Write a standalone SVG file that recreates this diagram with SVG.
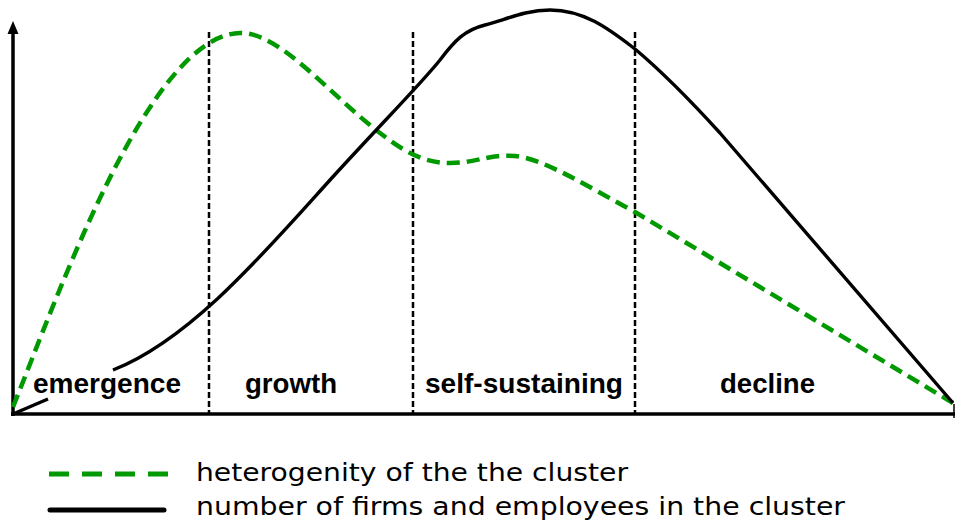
<svg xmlns="http://www.w3.org/2000/svg" width="955" height="527" viewBox="0 0 955 527">
<style>
.axis{stroke:#000;stroke-width:3.5;fill:none}
.phase{stroke:#000;stroke-width:2.5;stroke-dasharray:6 3;fill:none}
.het{stroke:#009900;stroke-width:4.5;stroke-dasharray:13 7;fill:none}
.num{stroke:#000;stroke-width:3.4;fill:none;stroke-linejoin:round}
.lbl{font-family:"Liberation Sans",Arial,sans-serif;font-weight:bold;font-size:28px;fill:#000}
.leg{font-family:"DejaVu Sans",Verdana,sans-serif;font-size:24px;fill:#000}
</style>
<rect width="955" height="527" fill="#fff"/>
<g id="axes">
<line class="axis" x1="13" y1="416" x2="13" y2="32"/>
<polygon points="13,21 7.5,34 18.5,34" fill="#000"/>
<line class="axis" x1="11" y1="414" x2="955" y2="414"/>
<line x1="954" y1="404" x2="954" y2="418" stroke="#000" stroke-width="1.5"/>
</g>
<g id="phase-dividers">
<line class="phase" x1="209" y1="32" x2="209" y2="414"/>
<line class="phase" x1="413" y1="32" x2="413" y2="414"/>
<line class="phase" x1="635" y1="32" x2="635" y2="414"/>
</g>
<g id="connectors">
<path id="heterogeneity-curve" class="het" d="M13,407 C60,290 150,35 240,33 C280,32 330,95 380,133 C400,148 420,163 450,163 C475,163 490,154 515,156 C545,159 590,188 635,212 L953,403"/>
<path id="firms-curve-start" class="num" d="M13,414 L48,399"/>
<path id="firms-curve" class="num" d="M113,370 C190,340 265,252 330,180 C380,125 420,85 440,60 C455,40 465,30 485,25 C505,20 525,10 550,10 C585,10 610,30 635,49 C660,70 690,100 720,133 L953,403"/>
</g>
<g id="phase-emergence"><text class="lbl" x="33" y="393" textLength="148" lengthAdjust="spacingAndGlyphs">emergence</text></g>
<g id="phase-growth"><text class="lbl" x="245" y="393" textLength="92" lengthAdjust="spacingAndGlyphs">growth</text></g>
<g id="phase-self-sustaining"><text class="lbl" x="425" y="393" textLength="198" lengthAdjust="spacingAndGlyphs">self-sustaining</text></g>
<g id="phase-decline"><text class="lbl" x="720" y="393" textLength="95" lengthAdjust="spacingAndGlyphs">decline</text></g>
<g id="legend">
<line x1="49" y1="474" x2="168" y2="474" stroke="#009900" stroke-width="5" stroke-dasharray="20 13"/>
<text class="leg" x="196" y="481" textLength="432" lengthAdjust="spacingAndGlyphs">heterogenity of the the cluster</text>
<line x1="50" y1="510" x2="164" y2="510" stroke="#000" stroke-width="5" stroke-linecap="round"/>
<text class="leg" x="196" y="515" textLength="649" lengthAdjust="spacingAndGlyphs">number of firms and employees in the cluster</text>
</g>
</svg>
